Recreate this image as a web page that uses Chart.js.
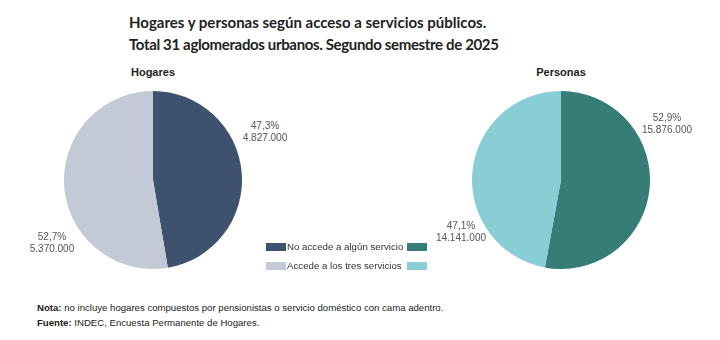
<!DOCTYPE html>
<html>
<head>
<meta charset="utf-8">
<script src="https://cdn.jsdelivr.net/npm/chart.js@4/dist/chart.umd.min.js"></script>
<style>
    body { margin: 0; width: 720px; height: 340px; background: #fff; position: relative; overflow: hidden; font-family: "Liberation Sans", Arial, sans-serif; color: #333; }
    .title { position: absolute; left: 129px; top: 11px; font-family: Lato, sans-serif; font-weight: 700; font-size: 15px; line-height: 22px; color: #222; }
    .title .l2 { letter-spacing: -0.35px; }
    .sub { position: absolute; top: 66px; font-weight: 700; font-size: 11px; color: #222; transform: translateX(-50%); }
    .box { position: absolute; width: 178px; height: 178px; }
    .lbl { position: absolute; font-size: 10px; line-height: 12px; color: #555; text-align: center; transform: translateX(-50%); }
    .legend { position: absolute; left: 266px; top: 237px; font-size: 9.7px; color: #333; }
    .row { display: flex; align-items: center; height: 19px; white-space: nowrap; }
    .sw { width: 20px; height: 8px; }
    .row span { margin: 0 2px 0 1px; width: 118px; }
    .foot { position: absolute; left: 37px; top: 300px; font-size: 9.6px; line-height: 15px; color: #222; }
</style>
</head>
<body>
<div class="title">Hogares y personas según acceso a servicios públicos.<br><span class="l2">Total 31 aglomerados urbanos. Segundo semestre de 2025</span></div>
<div class="sub" style="left:153px">Hogares</div>
<div class="sub" style="left:561px">Personas</div>
<div class="box" style="left:64px; top:91px"><canvas id="hogares"></canvas></div>
<div class="box" style="left:472px; top:91px"><canvas id="personas"></canvas></div>
<div class="lbl" id="h0" style="left:265px; top:120px"></div>
<div class="lbl" id="h1" style="left:52px; top:231px"></div>
<div class="lbl" id="p0" style="left:667px; top:112px"></div>
<div class="lbl" id="p1" style="left:461px; top:220px"></div>
<div class="legend" id="legend"></div>
<div class="foot"><b>Nota:</b> no incluye hogares compuestos por pensionistas o servicio doméstico con cama adentro.<br><b>Fuente:</b> INDEC, Encuesta Permanente de Hogares.</div>
<script>
const categories = ["No accede a algún servicio", "Accede a los tres servicios"];
const hogaresValues = [4827000, 5370000];
const personasValues = [15876000, 14141000];
const hogaresColors = ["#3e516f", "#c4cad5"];
const personasColors = ["#367c77", "#89ced5"];

const fmtNum = (v) => v.toLocaleString("de-DE");
const fmtPct = (v, total) => (v / total * 100).toFixed(1).replace(".", ",") + "%";

const makePie = (id, values, colors) => new Chart(document.getElementById(id), {
    type: "pie",
    data: {
        labels: categories,
        datasets: [{
            data: values,
            backgroundColor: colors,
            borderWidth: 0
        }]
    },
    options: {
        animation: false,
        responsive: true,
        maintainAspectRatio: false,
        layout: { padding: 0 },
        plugins: { legend: { display: false }, tooltip: { enabled: false } }
    }
});

makePie("hogares", hogaresValues, hogaresColors);
makePie("personas", personasValues, personasColors);

const fillLabels = (prefix, values) => {
    const total = values.reduce((a, b) => a + b, 0);
    values.forEach((v, i) => {
        document.getElementById(prefix + i).innerHTML = fmtPct(v, total) + "<br>" + fmtNum(v);
    });
};
fillLabels("h", hogaresValues);
fillLabels("p", personasValues);

const legend = document.getElementById("legend");
categories.forEach((cat, i) => {
    const row = document.createElement("div");
    row.className = "row";
    row.innerHTML = `<div class="sw" style="background:${hogaresColors[i]}"></div><span>${cat}</span><div class="sw" style="background:${personasColors[i]}"></div>`;
    legend.appendChild(row);
});
</script>
</body>
</html>
